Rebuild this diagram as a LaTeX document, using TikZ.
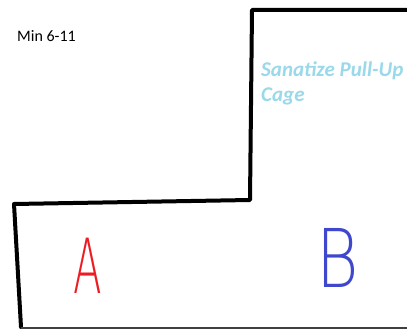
\documentclass[tikz,border=0pt]{standalone}
\usepackage{fontspec}
\usepackage{graphicx}
\setmainfont{Carlito}
\IfFontExistsTF{DejaVu Sans ExtraLight}
  {\newfontfamily\handfont{DejaVu Sans ExtraLight}}
  {\IfFontExistsTF{Fira Sans Light}
    {\newfontfamily\handfont{Fira Sans Light}}
    {\newfontfamily\handfont{DejaVu Sans}}}

\definecolor{planInk}{HTML}{000000}
\definecolor{planEdge}{HTML}{404040}
\definecolor{cageBlue}{HTML}{99D9EA}
\definecolor{zoneRed}{HTML}{ED1C24}
\definecolor{zoneBlue}{HTML}{3F48CC}

\begin{document}
\begin{tikzpicture}[x=1pt,y=-1pt,font=\fontsize{16}{19}\selectfont]
  \useasboundingbox (0,0) rectangle (407,329);
  \path[fill=white] (0,0) rectangle (407,329);

  % room outline
  \draw[planInk,line width=4pt,line join=round,line cap=round]
    (410,10) -- (252,10) -- (250,200) -- (14,204) -- (21,327);
  \draw[planEdge,line width=1.5pt] (21,327.8) -- (410,327.8);

  \node[anchor=base west,inner sep=0pt] (minLabel) at (17,42) {Min 6-11};
  \node[anchor=base west,inner sep=0pt,align=left,text=cageBlue,
    font=\bfseries\itshape\fontsize{21}{25}\selectfont]
    (cageLabel) at (261,102) {Sanatize Pull-Up\\Cage};

  \node[anchor=base,inner sep=0pt,text=zoneRed,font=\handfont\fontsize{76}{76}\selectfont]
    (zoneA) at (88,293) {\scalebox{0.55}[1]{A}};
  \node[anchor=base,inner sep=0pt,text=zoneBlue,font=\handfont\fontsize{81}{81}\selectfont]
    (zoneB) at (338,287) {\scalebox{0.8}[1]{B}};
\end{tikzpicture}
\end{document}
